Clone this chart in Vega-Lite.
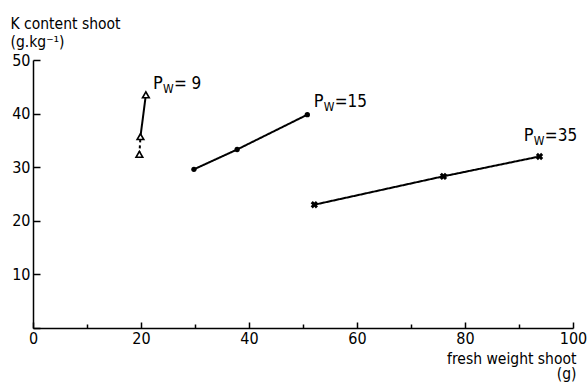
{
  "$schema": "https://vega.github.io/schema/vega-lite/v6.json",
  "width": 540,
  "height": 268,
  "autosize": {"type": "none"},
  "padding": {"left": 33, "top": 60, "right": 14, "bottom": 55},
  "background": "white",
  "config": {
    "view": {"stroke": null},
    "font": "DejaVu Sans Condensed",
    "axis": {"domainColor": "black", "domainWidth": 1.5, "tickColor": "black", "tickWidth": 1.5, "labelColor": "black", "titleColor": "black", "labelFontSize": 16, "titleFontSize": 15.5, "titleFontWeight": "normal", "grid": false, "labelFont": "DejaVu Sans Condensed", "titleFont": "DejaVu Sans Condensed"}
  },
  "datasets": {
    "pts": [
      {"series": "9", "x": 20.9, "y": 43.5},
      {"series": "9", "x": 19.9, "y": 35.7},
      {"series": "9", "x": 19.7, "y": 32.4},
      {"series": "15", "x": 29.8, "y": 29.6},
      {"series": "15", "x": 37.8, "y": 33.3},
      {"series": "15", "x": 50.8, "y": 39.8},
      {"series": "35", "x": 52.1, "y": 23.0},
      {"series": "35", "x": 76.0, "y": 28.3},
      {"series": "35", "x": 93.8, "y": 32.0}
    ],
    "lines": [
      {"seg": "9a", "style": "solid", "x": 20.9, "y": 43.5},
      {"seg": "9a", "style": "solid", "x": 19.9, "y": 35.7},
      {"seg": "9b", "style": "dashed", "x": 19.9, "y": 35.7},
      {"seg": "9b", "style": "dashed", "x": 19.7, "y": 32.4},
      {"seg": "15", "style": "solid", "x": 29.8, "y": 29.6},
      {"seg": "15", "style": "solid", "x": 37.8, "y": 33.3},
      {"seg": "15", "style": "solid", "x": 50.8, "y": 39.8},
      {"seg": "35", "style": "solid", "x": 52.1, "y": 23.0},
      {"seg": "35", "style": "solid", "x": 76.0, "y": 28.3},
      {"seg": "35", "style": "solid", "x": 93.8, "y": 32.0}
    ],
    "labels": [
      {"x": 22.2, "y": 45.6, "p": "P", "w": "W", "rest": "= 9"},
      {"x": 52.0, "y": 42.1, "p": "P", "w": "W", "rest": "=15"},
      {"x": 90.9, "y": 35.9, "p": "P", "w": "W", "rest": "=35"}
    ]
  },
  "layer": [
    {
      "data": {"name": "lines"},
      "mark": {"type": "line", "color": "black", "strokeWidth": 2},
      "encoding": {
        "x": {"field": "x", "type": "quantitative", "scale": {"domain": [0, 100], "nice": false},
          "axis": {"values": [0, 10, 20, 30, 40, 50, 60, 70, 80, 90, 100],
            "labelExpr": "datum.value % 20 === 0 ? datum.label : ''",
            "tickSize": {"expr": "datum.value % 20 === 0 ? -6 : -4"},
            "labelPadding": 8,
            "labelFlush": false,
            "title": ["fresh weight shoot", "(g)"],
            "titleAnchor": "end", "titleAlign": "right", "titleX": 543, "titleY": 35, "titleBaseline": "alphabetic", "titleLineHeight": 15}},
        "y": {"field": "y", "type": "quantitative", "scale": {"domain": [0, 50], "nice": false},
          "axis": {"values": [0, 5, 10, 15, 20, 25, 30, 35, 40, 45, 50],
            "labelExpr": "datum.value % 10 === 0 && datum.value > 0 ? datum.label : ''",
            "tickSize": {"expr": "datum.value % 10 === 0 ? -7 : -3"},
            "labelPadding": 10,
            "labelFlush": false,
            "title": ["K content shoot", "(g.kg⁻¹)"],
            "titleAngle": 0, "titleAlign": "left", "titleAnchor": "start", "titleX": -23, "titleY": -32, "titleBaseline": "alphabetic", "titleLineHeight": 18}},
        "detail": {"field": "seg"},
        "strokeDash": {"field": "style", "type": "nominal", "scale": {"domain": ["solid", "dashed"], "range": [[1, 0], [3, 3]]}, "legend": null}
      }
    },
    {
      "data": {"name": "pts"},
      "transform": [{"filter": "datum.series === '9'"}],
      "mark": {"type": "point", "shape": "triangle-up", "size": 45, "color": "black", "fill": "white", "filled": false, "strokeWidth": 1.6, "opacity": 1},
      "encoding": {
        "x": {"field": "x", "type": "quantitative"},
        "y": {"field": "y", "type": "quantitative"}
      }
    },
    {
      "data": {"name": "pts"},
      "transform": [{"filter": "datum.series === '15'"}],
      "mark": {"type": "point", "shape": "circle", "size": 28, "color": "black", "filled": true, "opacity": 1},
      "encoding": {
        "x": {"field": "x", "type": "quantitative"},
        "y": {"field": "y", "type": "quantitative"}
      }
    },
    {
      "data": {"name": "pts"},
      "transform": [{"filter": "datum.series === '35'"}],
      "mark": {"type": "point", "shape": "cross", "angle": 45, "size": 55, "color": "black", "filled": true, "opacity": 1},
      "encoding": {
        "x": {"field": "x", "type": "quantitative"},
        "y": {"field": "y", "type": "quantitative"}
      }
    },
    {
      "data": {"name": "labels"},
      "mark": {"type": "text", "align": "left", "baseline": "middle", "fontSize": 18, "color": "black", "font": "DejaVu Sans Condensed"},
      "encoding": {"x": {"field": "x", "type": "quantitative"}, "y": {"field": "y", "type": "quantitative"}, "text": {"field": "p"}}
    },
    {
      "data": {"name": "labels"},
      "mark": {"type": "text", "align": "left", "baseline": "middle", "fontSize": 12, "dx": 10, "dy": 5, "color": "black", "font": "DejaVu Sans Condensed"},
      "encoding": {"x": {"field": "x", "type": "quantitative"}, "y": {"field": "y", "type": "quantitative"}, "text": {"field": "w"}}
    },
    {
      "data": {"name": "labels"},
      "mark": {"type": "text", "align": "left", "baseline": "middle", "fontSize": 17, "dx": 21, "color": "black", "font": "DejaVu Sans Condensed"},
      "encoding": {"x": {"field": "x", "type": "quantitative"}, "y": {"field": "y", "type": "quantitative"}, "text": {"field": "rest"}}
    }
  ]
}
